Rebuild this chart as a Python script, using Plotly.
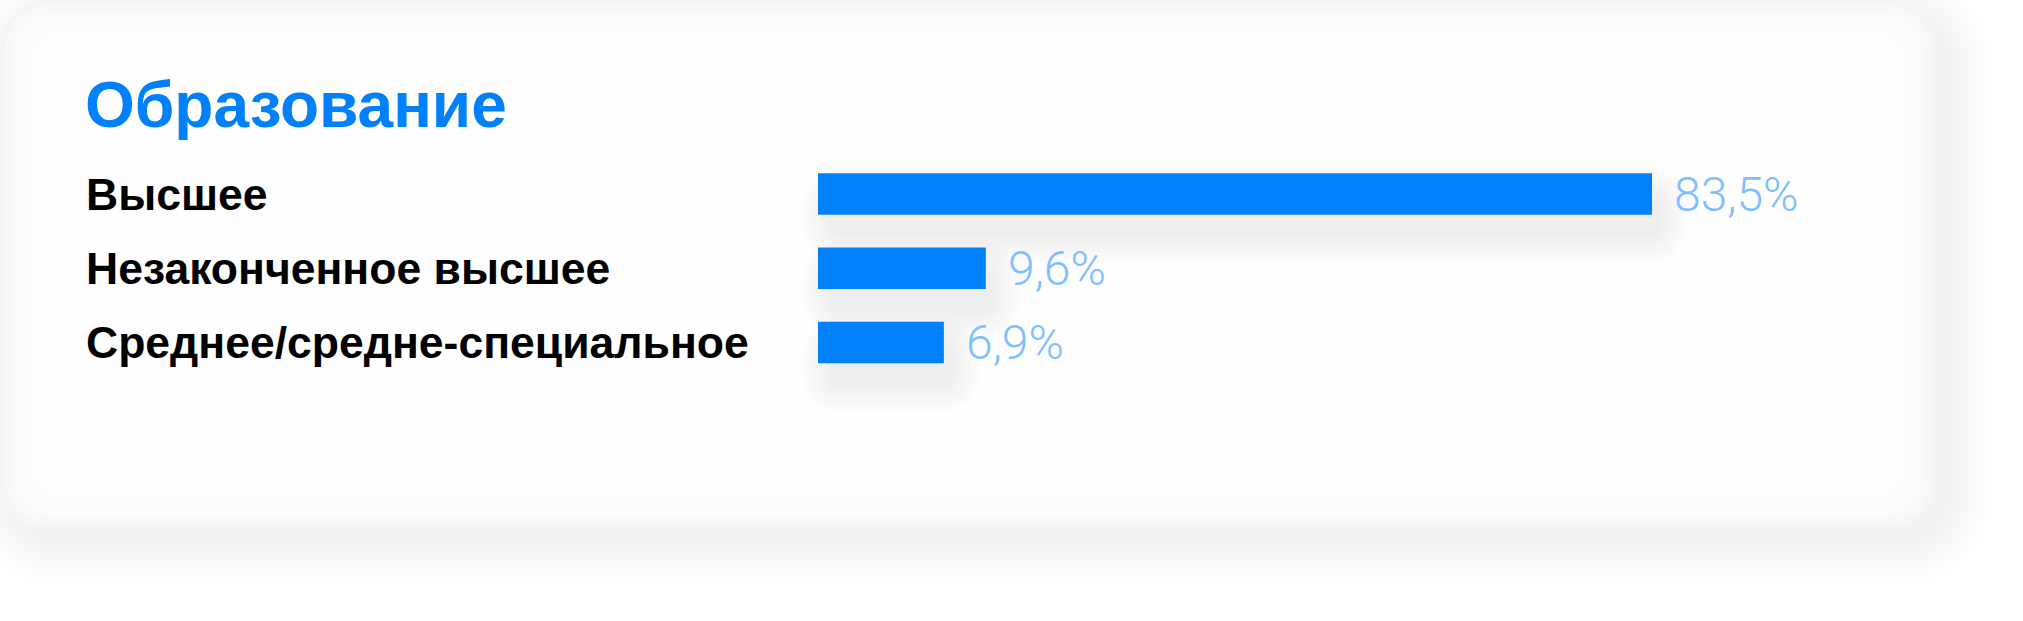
import plotly.graph_objects as go

# ---- data ----
title_text = "Образование"
categories = ["Высшее", "Незаконченное высшее", "Среднее/средне-специальное"]
percent_values = [83.5, 9.6, 6.9]          # printed labels (%)
bar_lengths = [83.5, 16.8, 12.6]           # drawn bar lengths

# ---- styling ----
W, H = 2023, 621
BLUE = "#0080FB"
LABEL_BLUE = "#80BFFF"
BAR_X0_PX = 818          # pixel where value 0 sits
PX_PER_UNIT = 834 / 83.5
ROW0_PX = 194.0          # pixel centre of first row
ROW_PITCH = 74.25
BAR_THICK = 41.5

def X(px):
    return px / W

def Y(py):
    return 1 - py / H

def rrect_path(x0, y0, x1, y1, r):
    k = 0.5523 * r
    def p(x, y):
        return f"{X(x):.6f},{Y(y):.6f}"
    d = f"M{p(x0 + r, y0)} L{p(x1 - r, y0)} "
    d += f"C{p(x1 - r + k, y0)} {p(x1, y0 + r - k)} {p(x1, y0 + r)} "
    d += f"L{p(x1, y1 - r)} "
    d += f"C{p(x1, y1 - r + k)} {p(x1 - r + k, y1)} {p(x1 - r, y1)} "
    d += f"L{p(x0 + r, y1)} "
    d += f"C{p(x0 + r - k, y1)} {p(x0, y1 - r + k)} {p(x0, y1 - r)} "
    d += f"L{p(x0, y0 + r)} "
    d += f"C{p(x0, y0 + r - k)} {p(x0 + r - k, y0)} {p(x0 + r, y0)} Z"
    return d

shapes = []

# card shadow (offset down-right, soft)
CX0, CY0, CX1, CY1, CR = 0, 0, 1935, 529, 48
for i in range(12):
    e = i * 4
    shapes.append(dict(type="path", xref="paper", yref="paper", layer="below",
                       path=rrect_path(CX0 + 12 - e, CY0 + 16 - e, CX1 + 14 + e, CY1 + 14 + e, CR + e),
                       fillcolor="rgba(0,0,0,0.0045)", line=dict(width=0)))
# card base and inner soft gradient
shapes.append(dict(type="path", xref="paper", yref="paper", layer="below",
                   path=rrect_path(CX0, CY0, CX1, CY1, CR),
                   fillcolor="#f6f6f6", line=dict(width=0)))
for inset in [5, 12, 21, 32, 46, 62]:
    shapes.append(dict(type="path", xref="paper", yref="paper", layer="below",
                       path=rrect_path(CX0 + inset, CY0 + inset, CX1 - inset, CY1 - inset, max(CR - inset * 0.5, 10)),
                       fillcolor="rgba(255,255,255,0.38)", line=dict(width=0)))

# soft shadows under bars
for i, L in enumerate(bar_lengths):
    cy = ROW0_PX + i * ROW_PITCH
    x0 = BAR_X0_PX
    x1 = BAR_X0_PX + L * PX_PER_UNIT
    for j in range(8):
        e = j * 4
        shapes.append(dict(type="path", xref="paper", yref="paper", layer="below",
                           path=rrect_path(x0 + 12 - e, cy - BAR_THICK / 2 + 22 - e,
                                           x1 + 8 + e, cy + BAR_THICK / 2 + 22 + e, 12 + e),
                           fillcolor="rgba(0,0,0,0.0065)", line=dict(width=0)))

fig = go.Figure()
fig.add_trace(go.Bar(
    x=bar_lengths, y=categories, orientation="h",
    width=BAR_THICK / ROW_PITCH,
    marker=dict(color=BLUE, line=dict(width=0)),
    hoverinfo="skip", showlegend=False,
))

annotations = []
annotations.append(dict(text=title_text, xref="paper", yref="paper", x=X(83), y=Y(105),
                        xanchor="left", yanchor="middle", showarrow=False,
                        font=dict(family="Liberation Sans", size=64, color=BLUE, weight="bold")))
for cat in categories:
    annotations.append(dict(text=cat, xref="paper", yref="y", x=X(84), y=cat,
                            xanchor="left", yanchor="middle", showarrow=False,
                            font=dict(family="Liberation Sans", size=44.5, color="#000000", weight="bold")))
for cat, L, v in zip(categories, bar_lengths, percent_values):
    annotations.append(dict(text=f"{v:.1f}%".replace(".", ","), xref="x", yref="y", x=L, y=cat,
                            xanchor="left", yanchor="middle", xshift=20, showarrow=False,
                            font=dict(family="Roboto", size=48, color=LABEL_BLUE, weight=300)))

r1 = -ROW0_PX / ROW_PITCH
r0 = r1 + H / ROW_PITCH
fig.update_layout(
    width=W, height=H,
    margin=dict(l=0, r=0, t=0, b=0),
    paper_bgcolor="#ffffff", plot_bgcolor="rgba(0,0,0,0)",
    xaxis=dict(range=[-BAR_X0_PX / PX_PER_UNIT, (W - BAR_X0_PX) / PX_PER_UNIT],
               visible=False, fixedrange=True),
    yaxis=dict(type="category", categoryorder="array", categoryarray=categories,
               range=[r0, r1], visible=False, fixedrange=True),
    shapes=shapes, annotations=annotations, showlegend=False,
)

fig.write_html("out.html", config={"displayModeBar": False},
               post_script="document.body.style.margin='0';document.body.style.overflow='hidden';")
